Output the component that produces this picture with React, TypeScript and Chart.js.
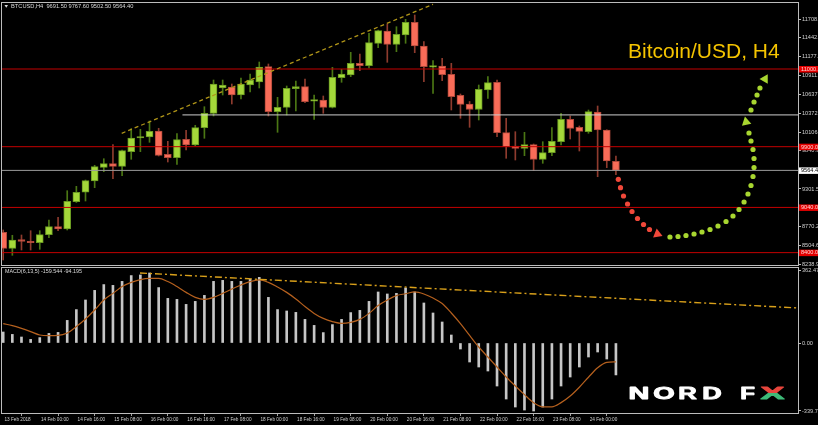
import React, { useEffect, useRef } from 'react';
import { Chart, registerables } from 'chart.js';

Chart.register(...registerables);

const FONT = '"Liberation Sans", Arial, sans-serif';

// ---- Candles (BTCUSD H4, 13 Feb 08:00 .. 24 Feb 12:00) ----
const OPEN = [8687.8, 8461.3, 8583.0, 8560.4, 8540.6, 8653.8, 8767.1, 8734.6, 9121.1, 9254.3,
  9414.2, 9608.2, 9659.2, 9622.4, 9829.1, 10027.4, 10037.3, 10122.2, 9792.3, 9744.2,
  10004.7, 9924.0, 10168.9, 10372.9, 10731.1, 10745.3, 10632.0, 10773.6, 10816.1, 11032.7,
  10395.5, 10457.8, 10721.2, 10749.5, 10551.3, 10561.2, 10457.8, 10877.0, 10915.2, 11080.9,
  11046.9, 11364.1, 11538.2, 11349.9, 11481.6, 11661.4, 11325.8, 11032.7, 11042.6, 10925.1,
  10627.8, 10504.6, 10426.7, 10702.8, 10811.8, 10098.2, 9909.8, 9877.3, 9928.2, 9721.5,
  9815.0, 9970.7, 10287.9, 10174.6, 10112.3, 10391.3, 10136.4, 9691.5];
const HIGH = [8720.4, 8645.4, 8649.6, 8710.5, 8710.5, 8862.0, 8900.3, 9276.9, 9339.2, 9428.4,
  9636.6, 9730.0, 9928.3, 9853.2, 10154.8, 10146.3, 10263.8, 10160.5, 9976.4, 10084.0,
  10132.1, 10203.0, 10466.3, 10844.4, 10844.4, 10787.8, 10872.7, 10929.4, 11099.3, 11071.0,
  10599.4, 10759.4, 10830.2, 10858.6, 10632.0, 10617.8, 11024.2, 10995.9, 11236.6, 11212.6,
  11505.7, 11552.4, 11637.4, 11599.1, 11703.9, 11764.8, 11386.7, 11117.7, 11151.7, 11080.9,
  10646.2, 10540.0, 10773.6, 10894.0, 10844.4, 10302.1, 10112.3, 10103.8, 9938.2, 9970.7,
  10168.9, 10372.9, 10334.6, 10193.0, 10419.6, 10476.2, 10140.0, 9767.6];
const LOW = [8295.6, 8362.0, 8437.2, 8437.2, 8447.1, 8611.4, 8710.5, 8720.4, 9110.0, 9131.0,
  9319.4, 9545.9, 9446.8, 9489.3, 9721.5, 9829.1, 9962.2, 9768.2, 9683.3, 9650.7,
  9853.2, 9914.1, 10018.9, 10334.6, 10632.0, 10504.6, 10575.4, 10674.5, 10731.1, 10334.6,
  10103.8, 10348.8, 10405.4, 10523.0, 10287.9, 10372.9, 10447.9, 10811.8, 10891.1, 10976.1,
  11014.3, 11301.8, 11095.0, 11245.1, 11364.1, 11231.0, 10820.3, 10656.1, 10834.5, 10419.6,
  10302.1, 10174.6, 10278.0, 10582.4, 10041.5, 9735.7, 9711.6, 9772.5, 9560.1, 9664.9,
  9772.5, 9924.0, 10009.0, 9839.0, 10089.7, 9475.1, 9602.6, 9502.5];
const CLOSE = [8461.3, 8578.8, 8560.4, 8540.6, 8653.8, 8767.1, 8734.6, 9126.8, 9254.3, 9418.5,
  9616.7, 9659.2, 9622.4, 9843.3, 10023.1, 10041.5, 10118.0, 9778.2, 9744.2, 9999.0,
  9924.0, 10168.9, 10372.9, 10787.8, 10773.6, 10632.0, 10787.8, 10844.4, 11028.5, 10395.5,
  10457.8, 10726.9, 10749.5, 10537.1, 10561.2, 10457.8, 10882.6, 10929.4, 11080.9, 11046.9,
  11372.6, 11542.5, 11349.9, 11491.5, 11661.4, 11325.8, 11032.7, 11042.6, 10919.4, 10607.9,
  10500.3, 10426.7, 10712.7, 10806.2, 10098.2, 9899.9, 9877.3, 9928.2, 9721.5, 9815.0,
  9976.4, 10287.9, 10160.5, 10118.0, 10395.5, 10136.4, 9697.4, 9564.4];

// ---- MACD(6,13,5) ----
const MACD_MAIN = [55, 43, 30, 18, 27, 48, 53, 113, 167, 215,
  263, 292, 288, 308, 337, 340, 350, 277, 223, 218,
  193, 208, 238, 308, 313, 308, 308, 318, 328, 228,
  167, 160, 153, 118, 88, 52, 92, 118, 152, 163,
  208, 255, 245, 248, 275, 255, 200, 150, 105, 40,
  -30, -95, -120, -140, -215, -280, -320, -335, -339.79, -320,
  -280, -215, -170, -120, -70, -45, -80, -159.544];
const MACD_SIGNAL = [97, 87, 73, 57, 40, 37, 38, 50, 82, 120,
  165, 215, 248, 282, 303, 317, 323, 323, 307, 282,
  253, 228, 218, 228, 248, 270, 290, 307, 315, 303,
  280, 253, 220, 182, 148, 123, 107, 98, 103, 118,
  148, 187, 215, 237, 246, 255, 245, 225, 197, 150,
  97, 38, -20, -70, -120, -170, -215, -258, -298, -319,
  -319, -298, -265, -221, -171, -124, -97, -94.195];

// ---- Axes ----
const TIME_TICKS = [0, 4, 8, 12, 16, 20, 24, 28, 32, 36, 40, 44, 48, 52, 56, 60, 64];
const TIME_LABELS = ['13 Feb 2018', '14 Feb 00:00', '14 Feb 16:00', '15 Feb 08:00', '16 Feb 00:00',
  '16 Feb 16:00', '17 Feb 08:00', '18 Feb 00:00', '18 Feb 16:00', '19 Feb 08:00', '20 Feb 00:00',
  '20 Feb 16:00', '21 Feb 08:00', '22 Feb 00:00', '22 Feb 16:00', '23 Feb 08:00', '24 Feb 00:00'];
const PRICE_TICKS = [11708.1, 11442.5, 11177.0, 10911.4, 10637.3, 10372.1, 10106.9, 9840.9, 9301.5, 8770.2, 8504.6, 8238.9];
const MACD_TICKS = [362.476, 0, -339.795];
const MACD_TICK_LABELS = ['362.476', '0.00', '-339.795'];
const X_MIN = -0.131;
const X_MAX = 86.91;
const PRICE_MIN = 8224.8;
const PRICE_MAX = 11934.7;
const MACD_MIN = -349.8;
const MACD_MAX = 374.8;

// ---- Drawn levels / lines ----
const RED_LEVELS = [11000, 9900, 9040, 8400];
const RED_LEVEL_LABELS = ['11000.0', '9900.0', '9040.0', '8400.0'];
const GRAY_LEVEL = 10350;
const GRAY_LEVEL_START = 19.6;
const BID_LEVEL = 9564.4;
const BID_LABEL = '9564.4';
const PRICE_TREND_X = [12.96, 47.0];
const PRICE_TREND_Y = [10089.7, 11916.3];
const MACD_TREND_X = [14.96, 86.91];
const MACD_TREND_Y = [350, 175];

// ---- Forecast arrows ----
const RED_PATH_X = [67.26, 67.5, 67.83, 68.27, 68.76, 69.36, 70.02, 70.67];
const RED_PATH_Y = [9438.3, 9319.4, 9201.9, 9088.6, 8982.4, 8883.4, 8798.4, 8727.6];
const GREEN_PATH_X = [72.91, 73.79, 74.66, 75.54, 76.41, 77.29, 78.16, 79.04, 79.8, 80.46, 81.01, 81.44,
  81.77, 81.99, 82.1, 82.1, 81.99, 81.77, 81.55, 81.77, 82.1, 82.43, 82.75];
const GREEN_PATH_Y = [8621.3, 8628.4, 8642.5, 8663.8, 8692.1, 8727.6, 8777.0, 8840.8, 8918.6, 9010.7, 9116.9, 9230.2,
  9350.7, 9477.9, 9605.4, 9732.8, 9860.3, 9980.6, 10093.9, 10419.6, 10532.9, 10632.0, 10731.1];
const ARROW_X = [71.54, 81.23, 83.3];
const ARROW_Y = [8663.8, 10249.7, 10858.6];
const ARROW_ROT = [112, -12, 30];
const ARROW_COLORS = ['#f0483a', '#a8d630', '#a8d630'];

const TITLE = 'Bitcoin/USD, H4';
const HEADER = 'BTCUSD,H4  9691.50 9767.60 9502.50 9564.40';
const MACD_HEADER = 'MACD(6,13,5) -159.544 -94.195';

const UP_FILL = '#a4d83a';
const DN_FILL = '#f96c58';
const UP_EDGE = '#6a9a22';
const DN_EDGE = '#b0483a';
const UP_WICK = '#4b7714';
const DN_WICK = '#8e3b2e';

const pts = (xs: number[], ys: number[]) => xs.map((x, i) => ({ x, y: ys[i] }));

const xAxis = (show: boolean) => ({
  type: 'linear',
  min: X_MIN,
  max: X_MAX,
  offset: false,
  display: show,
  grid: { display: true, drawOnChartArea: false, drawTicks: true, tickLength: 3, color: '#a0a0a0' },
  border: { display: false },
  ticks: {
    autoSkip: false, maxRotation: 0, minRotation: 0, align: 'start', padding: 1, labelOffset: 1.2,
    color: '#d0d0d0', font: { family: FONT, size: 4.7 },
    callback: (v: number) => TIME_LABELS[TIME_TICKS.indexOf(v)] ?? '',
  },
  afterBuildTicks: (s: any) => { s.ticks = TIME_TICKS.map((v) => ({ value: v })); },
  afterFit: (s: any) => { s.height = show ? 12 : 0; s.paddingLeft = 0; s.paddingRight = 0; },
});

const topOverlay = {
  id: 'topOverlay',
  afterDraw(chart: any) {
    const { ctx, chartArea: ca } = chart;
    const ys = chart.scales.y;
    ctx.save();
    ctx.strokeStyle = '#bcbcbc';
    ctx.lineWidth = 1;
    ctx.strokeRect(ca.left - 0.5, ca.top - 0.5, ca.right - ca.left + 1, ca.bottom - ca.top + 1);
    ctx.font = `5.6px ${FONT}`;
    ctx.textBaseline = 'middle';
    ctx.textAlign = 'left';
    RED_LEVELS.forEach((v, i) => {
      const y = ys.getPixelForValue(v);
      ctx.fillStyle = '#e40000';
      ctx.fillRect(ca.right + 1, y - 3, 20, 6.5);
      ctx.fillStyle = '#ffd4d4';
      ctx.fillText(RED_LEVEL_LABELS[i], ca.right + 3, y + 0.3);
    });
    const yb = ys.getPixelForValue(BID_LEVEL);
    ctx.fillStyle = '#ffffff';
    ctx.fillRect(ca.right + 1, yb - 3, 20, 6.5);
    ctx.fillStyle = '#000000';
    ctx.fillText(BID_LABEL, ca.right + 3, yb + 0.3);
    // header
    ctx.fillStyle = '#d8d8d8';
    ctx.beginPath();
    ctx.moveTo(4.5, 5); ctx.lineTo(8, 5); ctx.lineTo(6.25, 7.8); ctx.closePath();
    ctx.fill();
    ctx.font = `5.7px ${FONT}`;
    ctx.fillText(HEADER, 11, 6.6);
    // title
    ctx.font = `21px ${FONT}`;
    ctx.textBaseline = 'alphabetic';
    ctx.fillStyle = '#f5c400';
    ctx.fillText(TITLE, 628, 58);
    ctx.restore();
  },
};

const bottomOverlay = {
  id: 'bottomOverlay',
  afterDraw(chart: any) {
    const { ctx, chartArea: ca } = chart;
    ctx.save();
    ctx.strokeStyle = '#bcbcbc';
    ctx.lineWidth = 1;
    ctx.strokeRect(ca.left - 0.5, ca.top - 0.5, ca.right - ca.left + 1, ca.bottom - ca.top + 1);
    ctx.font = `5.4px ${FONT}`;
    ctx.textBaseline = 'middle';
    ctx.textAlign = 'left';
    ctx.fillStyle = '#dcdcdc';
    ctx.fillText(MACD_HEADER, 5, 6);
    // logo
    const base = 133;
    ctx.font = `bold 16px ${FONT}`;
    ctx.textAlign = 'center';
    ctx.textBaseline = 'alphabetic';
    ctx.lineJoin = 'round';
    const letters: [string, number, number][] = [['N', 639, 1.8], ['O', 664, 1.72], ['R', 687.5, 1.6], ['D', 712, 1.68], ['F', 747.5, 1.5]];
    ctx.fillStyle = '#ffffff';
    ctx.strokeStyle = '#ffffff';
    ctx.lineWidth = 0.9;
    letters.forEach(([ch, cx, sx]) => {
      ctx.save();
      ctx.translate(cx, base - 0.4);
      ctx.scale(sx, 1);
      ctx.fillText(ch, 0, 0);
      ctx.strokeText(ch, 0, 0);
      ctx.restore();
    });
    ctx.save();
    ctx.translate(772.5, base - 0.4);
    ctx.scale(2.2, 1);
    const g = ctx.createLinearGradient(0, -12, 0, 0);
    g.addColorStop(0, '#e8453c');
    g.addColorStop(0.5, '#e8453c');
    g.addColorStop(0.5, '#3dba78');
    g.addColorStop(1, '#3dba78');
    ctx.fillStyle = g;
    ctx.strokeStyle = g;
    ctx.fillText('X', 0, 0);
    ctx.strokeText('X', 0, 0);
    ctx.restore();
    ctx.restore();
  },
};

function levelLine(y: number, color: string, x0 = X_MIN) {
  return {
    type: 'line', data: [{ x: x0, y }, { x: X_MAX, y }], borderColor: color, borderWidth: 1,
    pointRadius: 0, fill: false, order: 2,
  };
}

function topConfig(): any {
  const up = OPEN.map((o, i) => CLOSE[i] >= o);
  const bodies = OPEN.map((o, i) => {
    let lo = Math.min(o, CLOSE[i]);
    let hi = Math.max(o, CLOSE[i]);
    if (hi - lo < 20) { const m = (hi + lo) / 2; lo = m - 10; hi = m + 10; }
    return { x: i, y: [lo, hi] };
  });
  const wicks = OPEN.map((_, i) => ({ x: i, y: [LOW[i], HIGH[i]] }));
  return {
    type: 'bar',
    data: {
      datasets: [
        { type: 'line', data: pts(ARROW_X, ARROW_Y), showLine: false, pointStyle: 'triangle', pointRadius: 5.5,
          pointRotation: ARROW_ROT, pointBackgroundColor: ARROW_COLORS, pointBorderWidth: 0, order: 0 },
        { type: 'line', data: pts(RED_PATH_X, RED_PATH_Y), showLine: false, pointRadius: 2.6,
          pointBackgroundColor: '#f0483a', pointBorderWidth: 0, order: 0 },
        { type: 'line', data: pts(GREEN_PATH_X, GREEN_PATH_Y), showLine: false, pointRadius: 2.6,
          pointBackgroundColor: '#a8d630', pointBorderWidth: 0, order: 0 },
        { type: 'line', data: pts(PRICE_TREND_X, PRICE_TREND_Y), borderColor: '#b09518', borderWidth: 1.3,
          borderDash: [4, 3], pointRadius: 0, fill: false, order: 1 },
        ...RED_LEVELS.map((v) => levelLine(v, '#c40000')),
        levelLine(GRAY_LEVEL, '#cfcfcf', GRAY_LEVEL_START),
        levelLine(BID_LEVEL, '#9a9a9a'),
        { type: 'bar', data: bodies, barThickness: 7, grouped: false, borderSkipped: false, borderWidth: 1,
          backgroundColor: up.map((u) => (u ? UP_FILL : DN_FILL)),
          borderColor: up.map((u) => (u ? UP_EDGE : DN_EDGE)), order: 3 },
        { type: 'bar', data: wicks, barThickness: 1, grouped: false, borderWidth: 0,
          backgroundColor: up.map((u) => (u ? UP_WICK : DN_WICK)), order: 4 },
      ],
    },
    options: {
      responsive: false,
      animation: false,
      events: [],
      layout: { autoPadding: false, padding: { left: 2, right: 0, top: 3, bottom: 1 } },
      plugins: { legend: { display: false }, tooltip: { enabled: false } },
      scales: {
        x: xAxis(false),
        y: {
          type: 'linear', position: 'right', min: PRICE_MIN, max: PRICE_MAX,
          grid: { drawOnChartArea: false, drawTicks: true, tickLength: 3, color: '#bcbcbc' },
          border: { display: false },
          ticks: {
            autoSkip: false, padding: 1, color: '#d0d0d0', font: { family: FONT, size: 5.6 },
            callback: (v: number) => (PRICE_TICKS.includes(v) ? v.toFixed(1) : ''),
          },
          afterBuildTicks: (s: any) => { s.ticks = PRICE_TICKS.map((v) => ({ value: v })); },
          afterFit: (s: any) => { s.width = 20; s.paddingTop = 0; s.paddingBottom = 0; },
        },
      },
    },
    plugins: [topOverlay],
  };
}

function bottomConfig(): any {
  return {
    type: 'bar',
    data: {
      datasets: [
        { type: 'line', data: pts(MACD_TREND_X, MACD_TREND_Y), borderColor: '#d9a01a', borderWidth: 1.4,
          borderDash: [7, 3, 2, 3], pointRadius: 0, fill: false, order: 0 },
        { type: 'line', data: MACD_SIGNAL.map((v, i) => ({ x: i, y: v })), borderColor: '#b5601e', borderWidth: 1.2,
          pointRadius: 0, fill: false, cubicInterpolationMode: 'monotone', order: 1 },
        { type: 'bar', data: MACD_MAIN.map((v, i) => ({ x: i, y: v })), backgroundColor: '#c6c6c6',
          barThickness: 2, grouped: false, borderWidth: 0, order: 2 },
      ],
    },
    options: {
      responsive: false,
      animation: false,
      events: [],
      layout: { autoPadding: false, padding: { left: 2, right: 0, top: 2, bottom: 0 } },
      plugins: { legend: { display: false }, tooltip: { enabled: false } },
      scales: {
        x: xAxis(true),
        y: {
          type: 'linear', position: 'right', min: MACD_MIN, max: MACD_MAX,
          grid: { drawOnChartArea: false, drawTicks: true, tickLength: 3, color: '#bcbcbc' },
          border: { display: false },
          ticks: {
            autoSkip: false, padding: 1, color: '#d0d0d0', font: { family: FONT, size: 5.6 },
            callback: (v: number) => MACD_TICK_LABELS[MACD_TICKS.indexOf(v)] ?? '',
          },
          afterBuildTicks: (s: any) => { s.ticks = MACD_TICKS.map((v) => ({ value: v })); },
          afterFit: (s: any) => { s.width = 20; s.paddingTop = 0; s.paddingBottom = 0; },
        },
      },
    },
    plugins: [bottomOverlay],
  };
}

export default function App() {
  const topRef = useRef<HTMLCanvasElement>(null);
  const botRef = useRef<HTMLCanvasElement>(null);
  useEffect(() => {
    const top = new Chart(topRef.current as HTMLCanvasElement, topConfig());
    const bot = new Chart(botRef.current as HTMLCanvasElement, bottomConfig());
    return () => { top.destroy(); bot.destroy(); };
  }, []);
  return (
    <div style={{ position: 'fixed', left: 0, top: 0, width: 818, height: 425, background: '#000', overflow: 'hidden' }}>
      <canvas ref={topRef} width={818} height={266} style={{ position: 'absolute', left: 0, top: 0, width: 818, height: 266 }} />
      <canvas ref={botRef} width={818} height={159} style={{ position: 'absolute', left: 0, top: 266, width: 818, height: 159 }} />
    </div>
  );
}
